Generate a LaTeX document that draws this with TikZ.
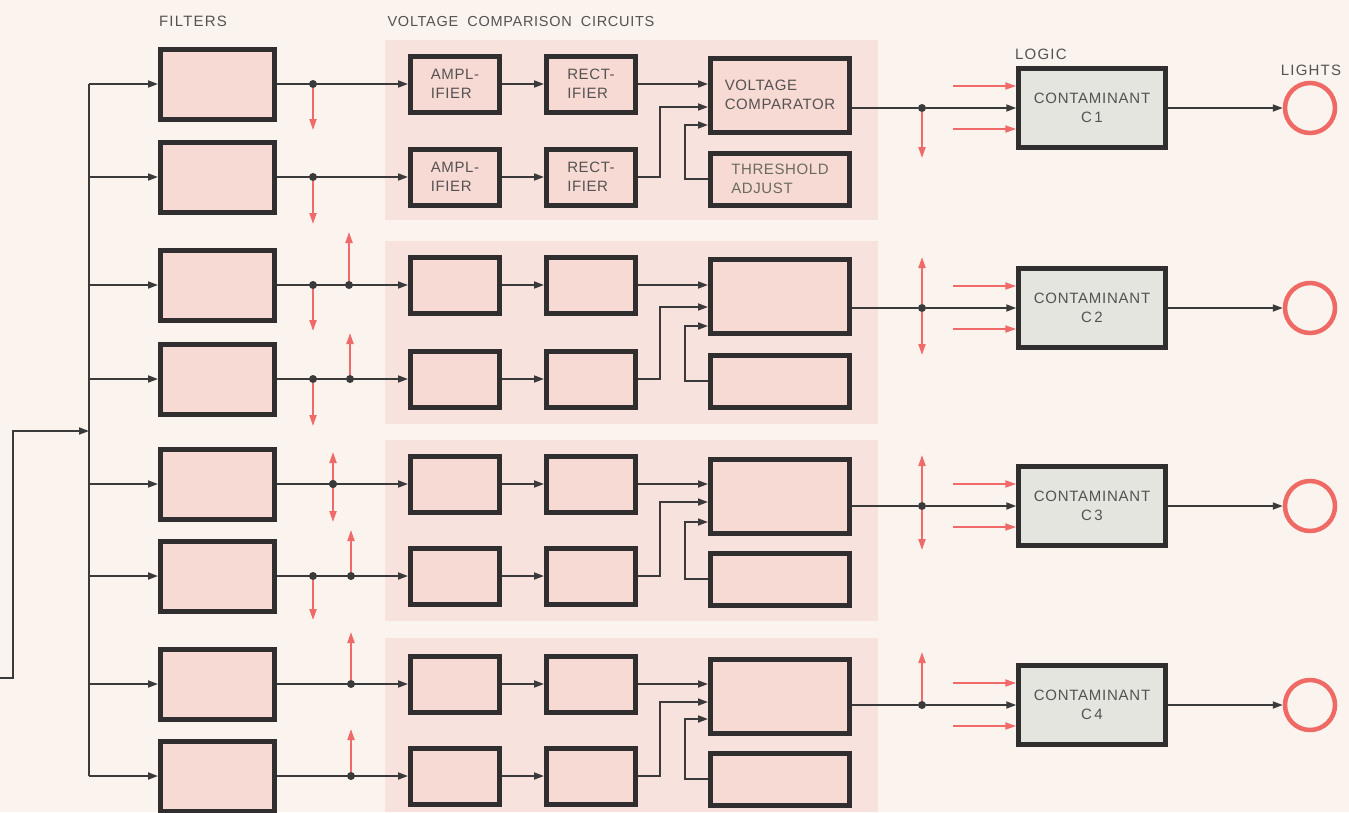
\documentclass[tikz,border=0pt]{standalone}
\usepackage{fontspec}
\setmainfont{Liberation Sans}
\usetikzlibrary{arrows.meta,calc}
\definecolor{bgc}{HTML}{FAF3EE}
\definecolor{panelc}{HTML}{F8E2DD}
\definecolor{boxc}{HTML}{F7DAD3}
\definecolor{edgec}{HTML}{302E2E}
\definecolor{wirec}{HTML}{3A3A3A}
\definecolor{redc}{HTML}{F06A6A}
\definecolor{logicc}{HTML}{E5E5DF}
\definecolor{txtc}{HTML}{555252}
\definecolor{thrtxt}{HTML}{6A6B5C}
\definecolor{lampc}{HTML}{EF6A64}
\begin{document}
\begin{tikzpicture}[x=1pt,y=-1pt,
  blk/.style={draw=edgec, line width=5pt, fill=boxc, inner sep=0pt,
    font=\fontsize{15}{19}\selectfont\addfontfeature{LetterSpace=4}, text=txtc, align=left},
  filt/.style={blk, minimum width=114pt, minimum height=70pt},
  ampbox/.style={blk, minimum width=89pt, minimum height=56pt},
  cmpbox/.style={blk, minimum width=139pt, minimum height=74pt},
  thrbox/.style={blk, minimum width=139pt, minimum height=52pt, text=thrtxt},
  logicbox/.style={draw=edgec, line width=4.5pt, fill=logicc, inner sep=0pt,
    minimum width=147pt, minimum height=79pt, align=center,
    font=\fontsize{15}{19}\selectfont\addfontfeature{LetterSpace=5}, text=txtc},
  wire/.style={draw=wirec, line width=1.8pt},
  arr/.style={wire, -{Triangle[length=10pt,width=7pt]}},
  redarr/.style={draw=redc, line width=2pt, -{Triangle[length=11pt,width=7pt]}},
  junct/.style={circle, fill=wirec, inner sep=0pt, minimum size=8pt},
  lampnode/.style={circle, draw=lampc, line width=4.5pt, minimum size=50pt, inner sep=0pt},
  lbl/.style={font=\fontsize{15}{17}\selectfont\addfontfeature{LetterSpace=8}, text=txtc, inner sep=0pt}
]
\fill[bgc] (0,0) rectangle (1349,812);
\useasboundingbox (0,0) rectangle (1349,812);

% panels
\fill[panelc] (385,40) rectangle (878,220);
\fill[panelc] (385,241) rectangle (878,424);
\fill[panelc] (385,440) rectangle (878,621);
\fill[panelc] (385,638) rectangle (878,812);

% labels
\node[lbl] (lfilters) at (193,21) {FILTERS};
\node[lbl, font=\fontsize{14.5}{17}\selectfont\addfontfeature{LetterSpace=5}] (lvcc) at (521,22)
  {VOLTAGE\hspace{9pt}COMPARISON\hspace{9pt}CIRCUITS};
\node[lbl, anchor=west] (llogic) at (1015,54) {LOGIC};
\node[lbl] (llights) at (1311,70) {LIGHTS};

% input and bus
\coordinate (in0) at (0,678);
\coordinate (in1) at (13,678);
\coordinate (in2) at (13,431);
\coordinate (busin) at (89,431);
\draw[arr] (in0) -- (in1) -- (in2) -- (busin);

\foreach \i/\y in {1/84,2/177,3/285,4/379,5/484,6/576,7/684,8/776} {
  \node[filt] (f\i) at (217.5,\y) {};
  \coordinate (b\i) at (89,\y);
  \draw[arr] (b\i) -- (f\i.west);
}
\draw[wire] (b1) -- (b8);

% amplifiers and rectifiers
\node[ampbox] (a1) at (455,84) {AMPL-\\IFIER};
\node[ampbox] (a2) at (455,177) {AMPL-\\IFIER};
\node[ampbox] (r1) at (591,84) {RECT-\\IFIER};
\node[ampbox] (r2) at (591,177) {RECT-\\IFIER};
\foreach \i/\y in {3/285,4/379,5/484,6/576,7/684,8/776} {
  \node[ampbox] (a\i) at (455,\y) {};
  \node[ampbox] (r\i) at (591,\y) {};
}
\foreach \i in {1,...,8} {
  \draw[arr] (f\i.east) -- (a\i.west);
  \draw[arr] (a\i.east) -- (r\i.west);
}

% junctions with red test arrows
\foreach \n/\x/\y/\e in {1a/313/84/130, 2a/313/177/224, 3a/313/285/331, 4a/313/379/426,
                         5a/333/484/522, 6a/313/576/620} {
  \node[junct] (d\n) at (\x,\y) {};
  \coordinate (e\n) at (\x,\e);
  \draw[redarr] (d\n) -- (e\n);
}
\foreach \n/\x/\y/\e in {3b/349/285/232, 4b/350/379/333, 5b/333/484/452,
                         6b/351/576/530, 7b/351/684/632, 8b/351/776/729} {
  \node[junct] (d\n) at (\x,\y) {};
  \coordinate (u\n) at (\x,\e);
  \draw[redarr] (d\n) -- (u\n);
}

% comparators, thresholds, logic, lamps
\foreach \g/\ra/\rb/\cy/\ty/\ib/\ic/\oy/\lab in {
   1/1/2/95/179/107/125/108/{C\,1},
   2/3/4/296/381/307/326/308/{C\,2},
   3/5/6/496/579/502/522/506/{C\,3},
   4/7/8/696/779/702/719/705/{C\,4}} {
  \ifnum\g=1
    \node[cmpbox] (c\g) at (780,\cy) {VOLTAGE\\COMPARATOR};
    \node[thrbox] (t\g) at (780,\ty) {THRESHOLD\\ADJUST};
  \else
    \node[cmpbox] (c\g) at (780,\cy) {};
    \node[thrbox] (t\g) at (780,\ty) {};
  \fi
  \draw[arr] (r\ra.east) -- (r\ra.east -| c\g.west);
  \coordinate (k\g) at (660,\ib);
  \draw[arr] (r\rb.east) -| (k\g) -- (k\g -| c\g.west);
  \coordinate (m\g) at (685,\ic);
  \draw[arr] (t\g.west) -| (m\g) -- (m\g -| c\g.west);
  \node[junct] (o\g) at (922,\oy) {};
  \node[logicbox] (L\g) at (1092,\oy) {CONTAMINANT\\\lab};
  \draw[wire] (c\g.east |- o\g) -- (o\g);
  \draw[arr] (o\g) -- (L\g.west);
  \coordinate (p\g) at (953,\oy-22);
  \coordinate (q\g) at (953,\oy+21);
  \draw[redarr] (p\g) -- (p\g -| L\g.west);
  \draw[redarr] (q\g) -- (q\g -| L\g.west);
  \node[lampnode] (lp\g) at (1310,\oy) {};
  \draw[arr] (L\g.east) -- (lp\g.west);
}
% red arrows at comparator outputs
\coordinate (od1) at (922,158);
\coordinate (ou2) at (922,257);
\coordinate (od2) at (922,355);
\coordinate (ou3) at (922,455);
\coordinate (od3) at (922,550);
\coordinate (ou4) at (922,652);
\draw[redarr] (o1) -- (od1);
\draw[redarr] (o2) -- (ou2);
\draw[redarr] (o2) -- (od2);
\draw[redarr] (o3) -- (ou3);
\draw[redarr] (o3) -- (od3);
\draw[redarr] (o4) -- (ou4);
\end{tikzpicture}
\end{document}
